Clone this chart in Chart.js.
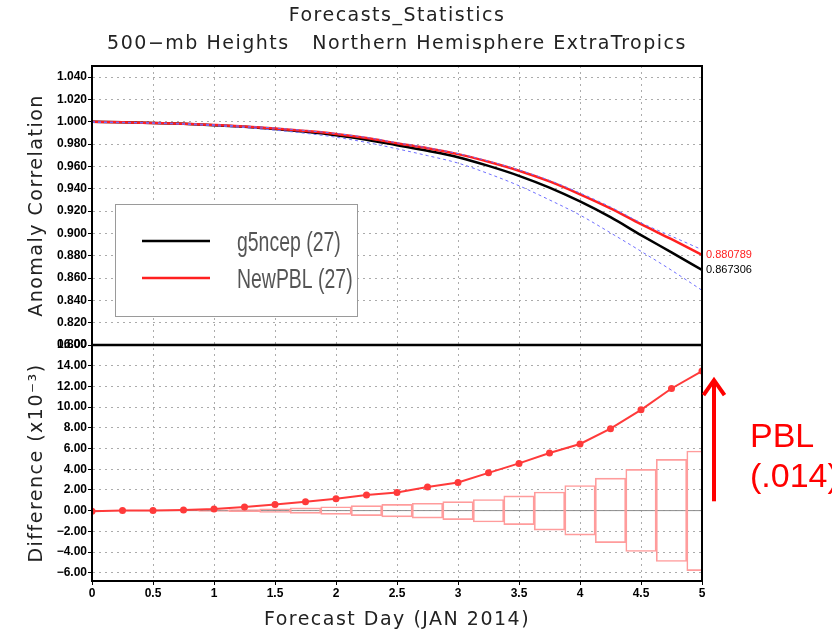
<!DOCTYPE html>
<html>
<head>
<meta charset="utf-8">
<script src="https://cdn.jsdelivr.net/npm/chart.js@4.4.0/dist/chart.umd.min.js"></script>
<style>
  body { margin: 0; background: #fff; }
  #wrap { position: relative; width: 832px; height: 634px; }
</style>
</head>
<body>
<div id="wrap"><canvas id="myChart"></canvas></div>
<script>
// forecast day, every 6 h
const days = [0, 0.25, 0.5, 0.75, 1, 1.25, 1.5, 1.75, 2, 2.25, 2.5, 2.75, 3, 3.25, 3.5, 3.75, 4, 4.25, 4.5, 4.75, 5];

// anomaly correlation
const g5ncep = [1.0000, 0.9995, 0.9990, 0.9982, 0.9970, 0.9955, 0.9935, 0.9910, 0.9880, 0.9840, 0.9790, 0.9740, 0.9683, 0.9605, 0.9516, 0.9410, 0.9286, 0.9145, 0.8985, 0.8830, 0.867306];
const newPBL = [0.99995, 0.9995, 0.9990, 0.99825, 0.99715, 0.99585, 0.9941, 0.99185, 0.98915, 0.9855, 0.98075, 0.97629, 0.97102, 0.96415, 0.95616, 0.94656, 0.93504, 0.92242, 0.90824, 0.8948, 0.880789];
const upperBound = [1.0000, 0.9996, 0.9991, 0.9984, 0.9974, 0.9961, 0.9944, 0.9922, 0.9895, 0.9860, 0.9812, 0.9767, 0.9715, 0.9648, 0.9568, 0.9475, 0.9362, 0.9237, 0.9095, 0.8975, 0.8854];
const lowerBound = [0.9995, 0.9992, 0.9987, 0.9978, 0.9965, 0.9948, 0.9925, 0.9897, 0.9862, 0.9815, 0.9758, 0.9697, 0.9630, 0.9535, 0.9427, 0.9300, 0.9164, 0.9005, 0.8840, 0.8670, 0.8490];

// NewPBL - g5ncep (x10^-3) and significance boxes
const difference = [-0.05, 0.0, 0.0, 0.05, 0.15, 0.35, 0.6, 0.85, 1.15, 1.5, 1.75, 2.29, 2.72, 3.65, 4.56, 5.56, 6.44, 7.92, 9.74, 11.8, 13.48];
const boxHigh = [0, 0.01, 0.02, 0.04, 0.07, 0.11, 0.18, 0.27, 0.37, 0.48, 0.6, 0.71, 0.87, 1.07, 1.42, 1.8, 2.43, 3.14, 3.98, 4.95, 5.76];
const boxLow = [0, -0.01, -0.02, -0.04, -0.07, -0.11, -0.18, -0.27, -0.37, -0.48, -0.61, -0.72, -0.87, -1.1, -1.36, -1.88, -2.37, -3.1, -3.95, -4.92, -5.8];

// ticks
const xTicks = [0, 0.5, 1, 1.5, 2, 2.5, 3, 3.5, 4, 4.5, 5];
const xTickLabels = ['0', '0.5', '1', '1.5', '2', '2.5', '3', '3.5', '4', '4.5', '5'];
const acTicks = [0.80, 0.82, 0.84, 0.86, 0.88, 0.90, 0.92, 0.94, 0.96, 0.98, 1.00, 1.02, 1.04];
const acTickLabels = ['0.800', '0.820', '0.840', '0.860', '0.880', '0.900', '0.920', '0.940', '0.960', '0.980', '1.000', '1.020', '1.040'];
const diffTicks = [-6, -4, -2, 0, 2, 4, 6, 8, 10, 12, 14, 16];
const diffTickLabels = ['\u22126.00', '\u22124.00', '\u22122.00', '0.00', '2.00', '4.00', '6.00', '8.00', '10.00', '12.00', '14.00', '16.00'];

// texts
const titleLines = ['Forecasts_Statistics', '500\u2212mb Heights   Northern Hemisphere ExtraTropics'];
const xTitle = 'Forecast Day (JAN 2014)';
const acTitle = 'Anomaly Correlation';
const diffTitle = 'Difference (x10\u207B\u00B3)';
const pblNote = ['PBL', '(.014)'];

Chart.defaults.font.family = '"Liberation Sans", Arial, sans-serif';

const tickFont = {family: '"Liberation Sans"', size: 12, weight: 'bold'};
const grid = {color: '#ababab', lineWidth: 1, offset: false, drawTicks: true, tickLength: 4, tickColor: '#000', tickWidth: 1, tickBorderDash: []};
const border = {color: '#000', width: 2, dash: [2, 4]};

const gradsText = {
  id: 'gradsText',
  beforeDatasetsDraw(chart) {
    const {ctx, chartArea} = chart;
    const y0 = chart.scales.yDiff.getPixelForValue(0);
    ctx.save();
    ctx.strokeStyle = '#8c8c8c';
    ctx.lineWidth = 1;
    ctx.beginPath();
    ctx.moveTo(chartArea.left, y0);
    ctx.lineTo(chartArea.right, y0);
    ctx.stroke();
    ctx.restore();
  },
  afterDraw(chart) {
    const {ctx, chartArea, scales} = chart;
    const cx = (chartArea.left + chartArea.right) / 2;
    ctx.save();

    // frame + panel separator
    ctx.strokeStyle = '#000';
    ctx.lineWidth = 2;
    ctx.strokeRect(chartArea.left, chartArea.top, chartArea.right - chartArea.left, chartArea.bottom - chartArea.top);
    ctx.lineWidth = 2.5;
    ctx.beginPath();
    ctx.moveTo(chartArea.left, scales.yAC.bottom);
    ctx.lineTo(chartArea.right, scales.yAC.bottom);
    ctx.stroke();

    // titles
    ctx.letterSpacing = '1.5px';
    ctx.font = '19px "DejaVu Sans"';
    ctx.fillStyle = '#222';
    ctx.textAlign = 'center';
    ctx.textBaseline = 'middle';
    ctx.fillText(titleLines[0], cx, 16);
    ctx.fillText(titleLines[1], cx, 44);
    ctx.fillText(xTitle, cx, 620);
    [[scales.yAC, acTitle], [scales.yDiff, diffTitle]].forEach(function(p){
      ctx.save();
      ctx.translate(37, (p[0].top + p[0].bottom) / 2);
      ctx.rotate(-Math.PI / 2);
      ctx.fillText(p[1], 0, 0);
      ctx.restore();
    });
    ctx.letterSpacing = '0px';

    // legend box
    const lx = chartArea.left + 23, ly = chartArea.top + 138;
    ctx.fillStyle = '#fff';
    ctx.fillRect(lx, ly, 242, 112);
    ctx.strokeStyle = '#9a9a9a';
    ctx.lineWidth = 1;
    ctx.strokeRect(lx + 0.5, ly + 0.5, 242, 112);
    let row = 0;
    chart.data.datasets.forEach(function(ds){
      if (!ds.inLegend) return;
      const y = ly + 37 + row * 37;
      ctx.strokeStyle = ds.borderColor;
      ctx.lineWidth = ds.borderWidth;
      ctx.beginPath();
      ctx.moveTo(lx + 27, y);
      ctx.lineTo(lx + 95, y);
      ctx.stroke();
      ctx.save();
      ctx.translate(lx + 122, y + 10);
      ctx.scale(0.72, 1);
      ctx.font = '27px "Liberation Sans"';
      ctx.fillStyle = '#555';
      ctx.textAlign = 'left';
      ctx.textBaseline = 'alphabetic';
      ctx.fillText(ds.label, 0, 0);
      ctx.restore();
      row++;
    });

    // last values at the right edge
    ctx.font = '11px "Liberation Sans"';
    ctx.textAlign = 'left';
    ctx.textBaseline = 'middle';
    chart.data.datasets.forEach(function(ds, i){
      if (!ds.endLabel) return;
      const pts = chart.getDatasetMeta(i).data;
      ctx.fillStyle = ds.borderColor;
      ctx.fillText(ds.data[ds.data.length - 1].toFixed(6), chartArea.right + 4, pts[pts.length - 1].y);
    });

    // PBL arrow note
    const ax = chartArea.right + 12;
    const yBot = scales.yDiff.getPixelForValue(0.9);
    const yTop = scales.yDiff.getPixelForValue(12.8);
    ctx.strokeStyle = '#ff0000';
    ctx.lineWidth = 4;
    ctx.beginPath();
    ctx.moveTo(ax, yBot);
    ctx.lineTo(ax, yTop + 3);
    ctx.stroke();
    ctx.lineJoin = 'miter';
    ctx.beginPath();
    ctx.moveTo(ax - 10.5, yTop + 17);
    ctx.lineTo(ax, yTop + 2);
    ctx.lineTo(ax + 10.5, yTop + 17);
    ctx.stroke();
    ctx.fillStyle = '#ff0000';
    ctx.font = '34px "Liberation Sans"';
    ctx.textBaseline = 'alphabetic';
    ctx.fillText(pblNote[0], chartArea.right + 48, 447);
    ctx.fillText(pblNote[1], chartArea.right + 48, 487);
    ctx.restore();
  }
};

window.onload = function(){
  const ctx = document.getElementById('myChart');

  const config = {
    type: 'line',
    data: {
      labels: days,
      datasets: [
        {
          label: 'g5ncep (27)',
          data: g5ncep,
          yAxisID: 'yAC',
          borderColor: '#000000',
          borderWidth: 2.5,
          pointRadius: 0,
          cubicInterpolationMode: 'monotone',
          order: 3,
          inLegend: true,
          endLabel: true
        },
        {
          label: 'NewPBL (27)',
          data: newPBL,
          yAxisID: 'yAC',
          borderColor: '#ff2020',
          borderWidth: 2.5,
          pointRadius: 0,
          cubicInterpolationMode: 'monotone',
          order: 2,
          inLegend: true,
          endLabel: true
        },
        {
          label: 'upper',
          data: upperBound,
          yAxisID: 'yAC',
          borderColor: '#6f6fff',
          borderWidth: 1,
          borderDash: [3, 3],
          pointRadius: 0,
          cubicInterpolationMode: 'monotone',
          order: 1
        },
        {
          label: 'lower',
          data: lowerBound,
          yAxisID: 'yAC',
          borderColor: '#6f6fff',
          borderWidth: 1,
          borderDash: [3, 3],
          pointRadius: 0,
          cubicInterpolationMode: 'monotone',
          order: 1
        },
        {
          label: 'difference',
          data: difference,
          yAxisID: 'yDiff',
          borderColor: '#ff3a3a',
          borderWidth: 2,
          pointRadius: 3.5,
          pointBackgroundColor: '#ff3a3a',
          pointBorderWidth: 0,
          order: 1
        },
        {
          type: 'bar',
          label: 'significance',
          data: boxLow.map(function(lo, i){ return [lo, boxHigh[i]]; }),
          yAxisID: 'yDiff',
          backgroundColor: 'rgba(0,0,0,0)',
          borderColor: '#ff9c9c',
          borderWidth: 1,
          borderSkipped: false,
          barPercentage: 1,
          categoryPercentage: 1,
          order: 5
        }
      ]
    },
    options: {
      responsive: true,
      maintainAspectRatio: false,
      animation: false,
      layout: {padding: {top: 66, right: 130, bottom: 0, left: 0}},
      plugins: {legend: {display: false}, tooltip: {enabled: false}, title: {display: false}},
      scales: {
        x: {
          type: 'linear',
          offset: false,
          min: 0,
          max: 5,
          afterBuildTicks: function(s){ s.ticks = xTicks.map(function(v){ return {value: v}; }); },
          afterFit: function(s){ s.height = 53; },
          ticks: {callback: function(v, i){ return xTickLabels[i]; }, font: tickFont, color: '#000', padding: 1, maxRotation: 0, autoSkip: false},
          grid: grid,
          border: border
        },
        yAC: {
          type: 'linear',
          position: 'left',
          stack: 'panels',
          stackWeight: 279,
          weight: 2,
          min: 0.8,
          max: 1.05,
          afterBuildTicks: function(s){ s.ticks = acTicks.map(function(v){ return {value: v}; }); },
          afterFit: function(s){ s.width = 92; },
          ticks: {callback: function(v, i){ return acTickLabels[i]; }, font: tickFont, color: '#000', padding: 1, autoSkip: false},
          grid: grid,
          border: border
        },
        yDiff: {
          type: 'linear',
          position: 'left',
          stack: 'panels',
          stackWeight: 236,
          weight: 1,
          min: -6.8,
          max: 16,
          afterBuildTicks: function(s){ s.ticks = diffTicks.map(function(v){ return {value: v}; }); },
          afterFit: function(s){ s.width = 92; },
          ticks: {callback: function(v, i){ return diffTickLabels[i]; }, font: tickFont, color: '#000', padding: 1, autoSkip: false},
          grid: grid,
          border: border
        }
      }
    },
    plugins: [gradsText]
  };

  const c1 = new Chart(ctx, config);
};
</script>
</body>
</html>
